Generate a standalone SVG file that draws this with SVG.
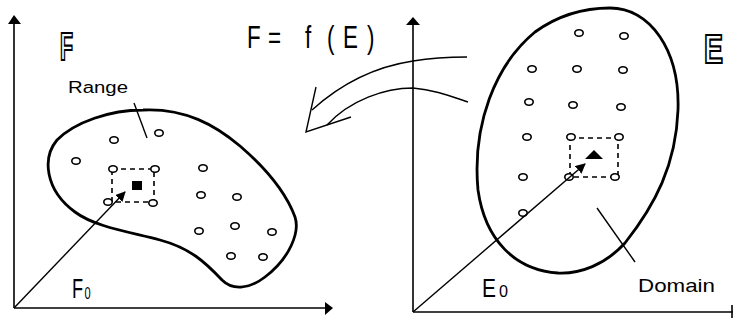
<svg xmlns="http://www.w3.org/2000/svg" width="733" height="326" viewBox="0 0 733 326">
<defs>
<style>
.ax{stroke:#000;stroke-width:1.6;fill:none}
.thin{stroke:#000;stroke-width:1.4;fill:none}
.blob{stroke:#000;stroke-width:2.8;fill:none}
.pt{stroke:#000;stroke-width:1.6;fill:#fff}
.dash{stroke:#000;stroke-width:1.6;fill:none;stroke-dasharray:5 4}
.t{font-family:"Liberation Sans",Arial,sans-serif;fill:#000}
.ol{font-family:"Liberation Sans",Arial,sans-serif;font-weight:bold;fill:#fff;stroke:#000;stroke-width:2.2}
</style>
<marker id="ah" viewBox="0 0 10 10" refX="9" refY="5" markerWidth="10" markerHeight="10" markerUnits="userSpaceOnUse" orient="auto">
<path d="M0,0 L10,5 L0,10 Z" fill="#000"/>
</marker>
</defs>
<rect width="733" height="326" fill="#fff"/>

<g id="left-axes">
<line class="ax" x1="14" y1="22" x2="14" y2="308"/>
<path d="M14,15 L8,24 L21,24 Z" fill="#000"/>
<line class="ax" x1="14" y1="308" x2="326" y2="308"/>
<path d="M333,308 L325,302 L325,315 Z" fill="#000"/>
<text class="ol" x="60" y="60" font-size="38" textLength="13" lengthAdjust="spacingAndGlyphs">F</text>
</g>

<g id="range">
<path class="blob" d="M143,110 C110,110 75,122 57,140 C42,158 45,190 75,212 C95,227 130,232 160,240 C190,248 205,262 222,280 C232,290 248,290 265,277 C290,258 300,232 295,217 C285,190 262,165 240,146 C215,125 185,108 143,110 Z"/>
<text class="t" x="68" y="93" font-size="16" textLength="60" lengthAdjust="spacingAndGlyphs">Range</text>
<line class="thin" x1="134" y1="103" x2="147" y2="138"/>
<rect class="dash" x="112" y="169" width="42" height="33"/>
<rect x="132" y="181" width="10" height="9" fill="#000"/>
<ellipse class="pt" cx="114" cy="140" rx="4.2" ry="3.3"/>
<ellipse class="pt" cx="159" cy="133" rx="4.2" ry="3.3"/>
<ellipse class="pt" cx="76" cy="161" rx="4.2" ry="3.3"/>
<ellipse class="pt" cx="113" cy="169" rx="4.2" ry="3.3"/>
<ellipse class="pt" cx="155" cy="169" rx="4.2" ry="3.3"/>
<ellipse class="pt" cx="108" cy="202" rx="4.2" ry="3.3"/>
<ellipse class="pt" cx="153" cy="203" rx="4.2" ry="3.3"/>
<ellipse class="pt" cx="203" cy="168" rx="4.2" ry="3.3"/>
<ellipse class="pt" cx="201" cy="195" rx="4.2" ry="3.3"/>
<ellipse class="pt" cx="237" cy="197" rx="4.2" ry="3.3"/>
<ellipse class="pt" cx="199" cy="231" rx="4.2" ry="3.3"/>
<ellipse class="pt" cx="235" cy="226" rx="4.2" ry="3.3"/>
<ellipse class="pt" cx="272" cy="232" rx="4.2" ry="3.3"/>
<ellipse class="pt" cx="231" cy="256" rx="4.2" ry="3.3"/>
<ellipse class="pt" cx="263" cy="257" rx="4.2" ry="3.3"/>
<text class="t" transform="translate(72,298) scale(0.65,1)" font-size="28">F<tspan font-size="17" dx="2" dy="1">0</tspan></text>
</g>

<g id="right-axes">
<line class="ax" x1="413" y1="24" x2="413" y2="312"/>
<path d="M413,17 L406,25 L420,25 Z" fill="#000"/>
<line class="ax" x1="413" y1="312" x2="733" y2="312"/>
<line class="ax" x1="732" y1="305" x2="732" y2="318"/>
<text class="ol" x="704" y="63" font-size="40" textLength="19" lengthAdjust="spacingAndGlyphs">E</text>
</g>

<g id="domain">
<path class="blob" d="M610,8 C650,8 680,50 678,110 C676,165 655,205 625,243 C605,265 580,274 558,273 C515,270 485,240 478,190 C472,125 495,65 535,32 C560,14 585,8 610,8 Z"/>
<rect class="dash" x="570" y="138" width="48" height="39"/>
<path d="M594,150 L585,159 L603,159 Z" fill="#000"/>
<ellipse class="pt" cx="579" cy="33" rx="4.2" ry="3.3"/>
<ellipse class="pt" cx="624" cy="36" rx="4.2" ry="3.3"/>
<ellipse class="pt" cx="532" cy="69" rx="4.2" ry="3.3"/>
<ellipse class="pt" cx="577" cy="69" rx="4.2" ry="3.3"/>
<ellipse class="pt" cx="623" cy="70" rx="4.2" ry="3.3"/>
<ellipse class="pt" cx="529" cy="102" rx="4.2" ry="3.3"/>
<ellipse class="pt" cx="573" cy="105" rx="4.2" ry="3.3"/>
<ellipse class="pt" cx="621" cy="107" rx="4.2" ry="3.3"/>
<ellipse class="pt" cx="527" cy="137" rx="4.2" ry="3.3"/>
<ellipse class="pt" cx="571" cy="137" rx="4.2" ry="3.3"/>
<ellipse class="pt" cx="619" cy="137" rx="4.2" ry="3.3"/>
<ellipse class="pt" cx="523" cy="177" rx="4.2" ry="3.3"/>
<ellipse class="pt" cx="569" cy="177" rx="4.2" ry="3.3"/>
<ellipse class="pt" cx="615" cy="177" rx="4.2" ry="3.3"/>
<ellipse class="pt" cx="523" cy="213" rx="4.2" ry="3.3"/>
<line class="thin" x1="597" y1="208" x2="635" y2="262"/>
<text class="t" x="638" y="292" font-size="19" textLength="77" lengthAdjust="spacingAndGlyphs">Domain</text>
<text class="t" x="482" y="297" font-size="25" textLength="14" lengthAdjust="spacingAndGlyphs">E</text>
<text class="t" x="499" y="297" font-size="16" textLength="9" lengthAdjust="spacingAndGlyphs">0</text>
</g>

<g id="mapping">
<text class="t" font-size="32" y="48" transform="scale(0.7,1)" x="352.9 368.6 383 414.3 435.7 467.1 490 524.3">F = f(E)</text>
<path class="thin" d="M467,57 C445,57 425,59 413,61 C380,66 345,80 312,110"/>
<path class="thin" d="M468,102 C450,96 435,90 413,88 C385,88 350,100 327,125"/>
<path class="thin" d="M316,87 L306,132 L351,117"/>
</g>

<g id="connectors">
<line class="thin" x1="14" y1="308" x2="125" y2="192" marker-end="url(#ah)"/>
<line class="thin" x1="413" y1="312" x2="585" y2="164" marker-end="url(#ah)"/>
</g>
</svg>
